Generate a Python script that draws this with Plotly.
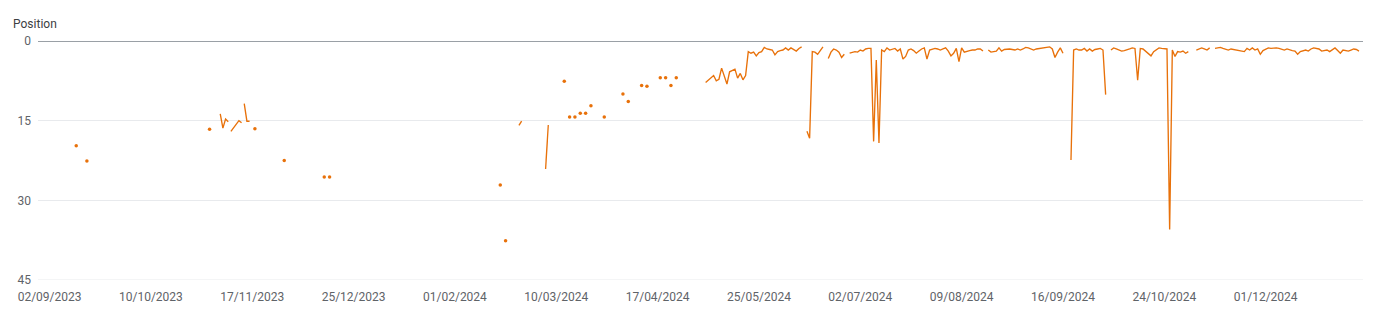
import pandas as pd
import plotly.graph_objects as go

# ---- data: average position per day (gaps = no data) ----
segment_start = [
    "2023-09-12", "2023-09-16", "2023-11-01", "2023-11-05", "2023-11-09", "2023-11-14",
    "2023-11-18", "2023-11-29", "2023-12-14", "2023-12-16", "2024-02-18", "2024-02-20",
    "2024-02-25", "2024-03-06", "2024-03-13", "2024-03-15", "2024-03-17", "2024-03-19",
    "2024-03-21", "2024-03-23", "2024-03-28", "2024-04-04", "2024-04-06", "2024-04-11",
    "2024-04-13", "2024-04-18", "2024-04-20", "2024-04-22", "2024-04-24", "2024-05-05",
    "2024-06-12", "2024-06-20", "2024-06-28", "2024-08-19", "2024-09-19", "2024-10-04",
    "2024-11-05", "2024-11-12",
]
segment_positions = [
    [19.7], [22.6], [16.6], [13.7, 16.4, 14.7, 15.2], [17.0, 16.4, 15.6, 15.0, 15.4],
    [11.8, 15.1, 15.1], [16.5], [22.5], [25.6], [25.6], [27.1], [37.6],
    [15.9, 15.1], [24.1, 15.8], [7.6], [14.3], [14.3], [13.6],
    [13.6], [12.2], [14.3], [10.0], [11.4], [8.4],
    [8.5], [6.9], [6.9], [8.4], [6.9],
    # 2024-05-05 .. 2024-06-10
    [7.8, 7.4, 7.0, 6.5, 7.5, 7.2, 5.1, 6.8, 8.1, 5.8, 5.6, 5.3, 7.0, 6.1, 7.3, 6.5,
     2.0, 2.3, 2.1, 2.8, 2.2, 2.0, 1.2, 1.5, 1.6, 1.7, 2.6, 2.0, 1.8, 1.7, 1.3, 1.7,
     1.3, 1.6, 1.9, 1.4, 1.1],
    # 2024-06-12 .. 2024-06-18
    [17.0, 18.3, 2.0, 2.1, 2.5, 1.7, 1.1],
    # 2024-06-20 .. 2024-06-26
    [3.3, 2.1, 1.5, 1.7, 2.1, 3.1, 2.5],
    # 2024-06-28 .. 2024-08-17
    [2.3, 2.1, 2.0, 2.1, 1.7, 1.9, 1.5, 1.4, 1.4, 18.9, 3.6, 19.2, 1.7, 2.0, 1.3, 1.7,
     1.5, 1.4, 1.9, 1.5, 3.4, 2.9, 1.7, 1.5, 1.8, 2.3, 1.9, 1.5, 1.3, 3.4, 1.7, 1.5,
     1.4, 1.5, 1.7, 1.5, 1.3, 1.9, 2.8, 2.3, 1.4, 3.9, 1.3, 2.1, 1.9, 1.8, 1.7, 1.7,
     1.5, 1.5, 1.9],
    # 2024-08-19 .. 2024-09-16
    [1.7, 2.1, 2.0, 1.9, 1.3, 1.9, 1.6, 1.5, 1.5, 1.6, 1.7, 1.5, 1.7, 1.5, 1.2, 1.3,
     1.5, 1.7, 1.5, 1.4, 1.4, 1.3, 1.2, 1.1, 1.5, 3.1, 2.1, 1.3, 2.3],
    # 2024-09-19 .. 2024-10-02
    [22.4, 1.7, 1.5, 1.7, 1.7, 1.4, 1.9, 1.5, 1.9, 1.6, 1.5, 1.4, 1.7, 10.1],
    # 2024-10-04 .. 2024-11-02
    [1.7, 1.3, 1.5, 1.7, 1.9, 1.8, 1.7, 1.5, 1.3, 1.4, 7.4, 1.4, 1.5, 2.0, 2.3, 2.8,
     2.0, 1.7, 1.3, 1.4, 1.4, 1.5, 35.5, 1.7, 2.9, 2.0, 2.1, 1.9, 2.3, 2.0],
    # 2024-11-05 .. 2024-11-10
    [1.7, 1.5, 1.3, 1.5, 1.7, 1.3],
    # 2024-11-12 .. 2025-01-05
    [1.4, 1.3, 1.2, 1.4, 1.5, 1.7, 1.5, 1.6, 1.7, 1.9, 1.9, 2.0, 1.4, 1.7, 1.3, 1.7,
     1.5, 2.5, 1.8, 1.5, 1.3, 1.4, 1.3, 1.3, 1.4, 1.6, 1.7, 1.5, 1.7, 1.8, 1.9, 2.5,
     2.0, 1.8, 1.7, 1.9, 1.5, 1.3, 1.4, 1.5, 1.9, 1.8, 1.7, 2.0, 1.7, 1.3, 1.8, 2.3,
     1.7, 1.8, 1.9, 1.7, 1.5, 1.6, 1.9],
]

tick_dates = ["2023-09-02", "2023-10-10", "2023-11-17", "2023-12-25", "2024-02-01",
              "2024-03-10", "2024-04-17", "2024-05-25", "2024-07-02", "2024-08-09",
              "2024-09-16", "2024-10-24", "2024-12-01"]
y_ticks = [0, 15, 30, 45]

COLOR = "#e8710a"
GRID = "#e8eaed"

# ---- build series with gaps ----
xs, ys = [], []
iso_x, iso_y = [], []
for start, vals in zip(segment_start, segment_positions):
    d = pd.date_range(start, periods=len(vals), freq="D")
    xs.extend(list(d))
    ys.extend(vals)
    xs.append(d[-1] + pd.Timedelta(hours=12))
    ys.append(None)
    if len(vals) == 1:
        iso_x.append(d[0])
        iso_y.append(vals[0])

fig = go.Figure()
fig.add_trace(go.Scatter(x=xs, y=ys, mode="lines", connectgaps=False,
                         line=dict(color=COLOR, width=1.35), hoverinfo="skip"))
fig.add_trace(go.Scatter(x=iso_x, y=iso_y, mode="markers",
                         marker=dict(color=COLOR, size=3.5, line=dict(width=0)),
                         hoverinfo="skip"))

fig.update_layout(
    width=1391, height=315,
    margin=dict(l=38, r=28, t=41, b=35),
    paper_bgcolor="white", plot_bgcolor="white",
    showlegend=False,
    font=dict(family="Roboto, Arial, sans-serif", size=12, color="#5f6368"),
)
fig.update_xaxes(
    type="date",
    range=["2023-08-28 16:00", "2025-01-06 12:00"],
    tickvals=tick_dates, tickformat="%d/%m/%Y",
    showgrid=False, zeroline=False, showline=False,
    ticks="",
    ticklabelstandoff=8,
    tickfont=dict(size=12, color="#5f6368"),
)
fig.update_yaxes(
    range=[45, 0], tickvals=y_ticks,
    showgrid=True, gridcolor=GRID, gridwidth=1,
    zeroline=True, zerolinecolor="#9aa0a6", zerolinewidth=1,
    showline=False, ticks="",
    ticklabelstandoff=6,
    tickfont=dict(size=12, color="#5f6368"),
)
# bottom gridline at the last y tick (plotly drops the grid line on the plot edge)
fig.add_shape(type="line", xref="paper", yref="y", x0=0, x1=1,
              y0=y_ticks[-1], y1=y_ticks[-1], line=dict(color=GRID, width=1),
              layer="below")
fig.add_annotation(text="Position", xref="paper", yref="paper",
                   x=-38 / (1391 - 38 - 28), xanchor="left", xshift=11,
                   y=1, yanchor="middle", yshift=17, showarrow=False,
                   font=dict(size=12, color="#3c4043"))

fig.write_html("out.html")
